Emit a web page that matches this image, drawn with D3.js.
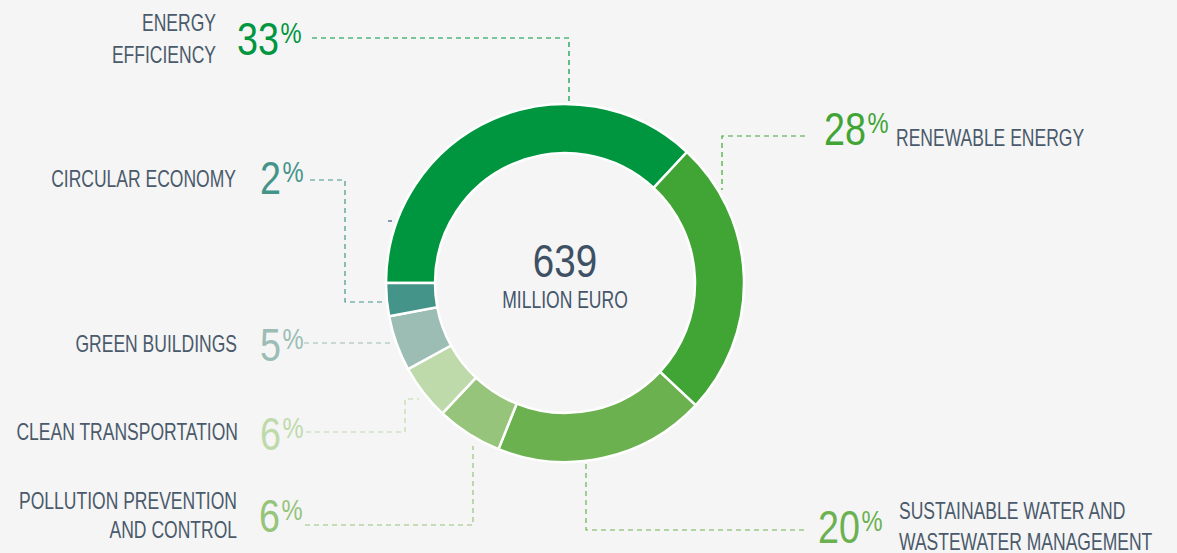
<!DOCTYPE html>
<html>
<head>
<meta charset="utf-8">
<script src="https://cdn.jsdelivr.net/npm/d3@7"></script>
<style>
  html, body { margin: 0; padding: 0; background: #f5f5f5; }
  svg { display: block; font-family: "Liberation Sans", Arial, sans-serif; }
</style>
</head>
<body>
<div id="chart"></div>
<script>
// categories in clockwise order, starting at 9 o'clock
var categories = ["ENERGY EFFICIENCY", "RENEWABLE ENERGY", "SUSTAINABLE WATER AND WASTEWATER MANAGEMENT",
                  "POLLUTION PREVENTION AND CONTROL", "CLEAN TRANSPORTATION", "GREEN BUILDINGS", "CIRCULAR ECONOMY"];
var amounts = [236, 160, 122, 38, 32, 32, 19];
// printed percentages
var pctLabels = ["33", "28", "20", "6", "6", "5", "2"];
var colors = ["#009640", "#41a535", "#6bb150", "#96c47a", "#bfdaaa", "#9bbdb4", "#45948a"];
var total = "639";
var totalUnit = "MILLION EURO";

var width = 1177, height = 553;
var cx = 565, cy = 283, outerR = 179, innerR = 130;
var textColor = "#4a5a6b";
var sxLabel = 0.73; // condense factor for label text
var sxNum = 0.82;   // condense factor for the big numbers

// layout of labels: label lines, anchor, number position, leader path
var layout = [
  { lines: ["ENERGY", "EFFICIENCY"], lx: 216, ly: [31, 63], anchor: "end", nx: 237, ny: 55,
    leader: [[312, 38], [569, 38], [569, 101]] },
  { lines: ["RENEWABLE ENERGY"], lx: 896, ly: [146], anchor: "start", nx: 824, ny: 145,
    leader: [[805, 136], [722, 136], [722, 190]] },
  { lines: ["SUSTAINABLE WATER AND", "WASTEWATER MANAGEMENT"], lx: 899, ly: [519, 550], anchor: "start", nx: 818, ny: 543,
    leader: [[586, 464], [586, 530], [804, 530]] },
  { lines: ["POLLUTION PREVENTION", "AND CONTROL"], lx: 237, ly: [509, 538], anchor: "end", nx: 259, ny: 532,
    leader: [[305, 525], [473, 525], [473, 446]] },
  { lines: ["CLEAN TRANSPORTATION"], lx: 238, ly: [440], anchor: "end", nx: 260, ny: 450,
    leader: [[306, 432], [405, 432], [405, 399], [419, 399]] },
  { lines: ["GREEN BUILDINGS"], lx: 237, ly: [352], anchor: "end", nx: 260, ny: 361,
    leader: [[304, 343], [393, 343]] },
  { lines: ["CIRCULAR ECONOMY"], lx: 236, ly: [187], anchor: "end", nx: 260, ny: 194,
    leader: [[310, 180], [345, 180], [345, 302], [386, 302]] }
];

var svg = d3.select("#chart").append("svg")
  .attr("width", width)
  .attr("height", height);

svg.append("rect").attr("width", width).attr("height", height).attr("fill", "#f5f5f5");

var pie = d3.pie().sort(null).value(d => d)
  .startAngle(-Math.PI / 2).endAngle(Math.PI * 1.5);
var arc = d3.arc().innerRadius(innerR).outerRadius(outerR);
var arcs = pie(amounts);

// leader lines
var line = d3.line();
layout.forEach(function (l, i) {
  svg.append("path")
    .attr("d", line(l.leader))
    .attr("fill", "none")
    .attr("stroke", colors[i])
    .attr("stroke-width", 1.2)
    .attr("stroke-dasharray", "5,4");
});

// small stray mark left of the ring
svg.append("line")
  .attr("x1", 388).attr("x2", 392).attr("y1", 221).attr("y2", 221)
  .attr("stroke", "#3d5a8a").attr("stroke-width", 1.2);

// donut
var g = svg.append("g").attr("transform", "translate(" + cx + "," + cy + ")");
g.selectAll("path.slice")
  .data(arcs)
  .enter().append("path")
  .attr("class", "slice")
  .attr("d", arc)
  .attr("fill", (d, i) => colors[i])
  .attr("stroke", "#ffffff")
  .attr("stroke-width", 2.5)
  .attr("stroke-linejoin", "miter");

// center text
g.append("g")
  .attr("transform", "translate(0,-6) scale(" + sxNum + ",1)")
  .append("text")
  .attr("text-anchor", "middle")
  .attr("font-size", 47)
  .attr("fill", "#3e5064")
  .text(total);
g.append("g")
  .attr("transform", "translate(0,25) scale(" + sxLabel + ",1)")
  .append("text")
  .attr("text-anchor", "middle")
  .attr("font-size", 24)
  .attr("fill", "#44566b")
  .text(totalUnit);

// labels
layout.forEach(function (l, i) {
  l.lines.forEach(function (t, j) {
    svg.append("g")
      .attr("transform", "translate(" + l.lx + "," + l.ly[j] + ") scale(" + sxLabel + ",1)")
      .append("text")
      .attr("text-anchor", l.anchor)
      .attr("font-size", 24)
      .attr("fill", textColor)
      .text(t);
  });
  var num = svg.append("g")
    .attr("transform", "translate(" + l.nx + "," + l.ny + ") scale(" + sxNum + ",1)")
    .append("text")
    .attr("fill", colors[i]);
  num.append("tspan")
    .attr("font-size", 46)
    .text(pctLabels[i]);
  num.append("tspan")
    .attr("font-size", 29)
    .attr("dx", 2)
    .attr("dy", -12)
    .text("%");
});
</script>
</body>
</html>
